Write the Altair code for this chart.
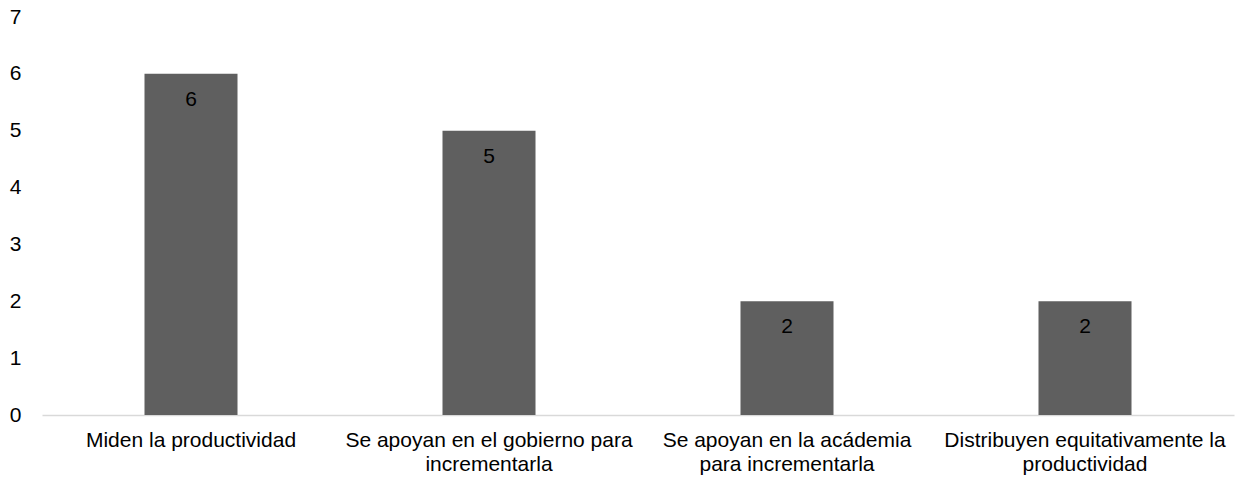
import altair as alt
import pandas as pd

# Categories, their wrapped axis labels, and counts
categories = [
    "Miden la productividad",
    "Se apoyan en el gobierno para incrementarla",
    "Se apoyan en la acádemia para incrementarla",
    "Distribuyen equitativamente la productividad",
]
label_lines = [
    ["Miden la productividad"],
    ["Se apoyan en el gobierno para", "incrementarla"],
    ["Se apoyan en la acádemia", "para incrementarla"],
    ["Distribuyen equitativamente la", "productividad"],
]
counts = [6, 5, 2, 2]
y_ticks = [0, 1, 2, 3, 4, 5, 6, 7]

df = pd.DataFrame({"categoria": categories, "valor": counts})

# Map each category to its multi-line label
label_expr = "".join(
    f"datum.value === {cat!r} ? {lines!r} : " for cat, lines in zip(categories, label_lines)
) + "datum.label"

FONT = "Liberation Sans"

x = alt.X(
    "categoria:N",
    sort=categories,
    title=None,
    scale=alt.Scale(paddingInner=0, paddingOuter=0),
    axis=alt.Axis(
        labelExpr=label_expr,
        labelAngle=0,
        labelFont=FONT,
        labelFontSize=21,
        labelColor="#000000",
        labelLineHeight=24,
        labelPadding=14,
        labelBaseline="top",
        labelLimit=400,
        labelOverlap=False,
        ticks=False,
        tickSize=0,
        domainColor="#d9d9d9",
        domainWidth=1.5,
        grid=False,
    ),
)

y = alt.Y(
    "valor:Q",
    title=None,
    scale=alt.Scale(domain=[0, 7], nice=False),
    axis=alt.Axis(
        values=y_ticks,
        labelFont=FONT,
        labelFontSize=21,
        labelColor="#000000",
        labelPadding=21,
        ticks=False,
        tickSize=0,
        domain=False,
        grid=False,
        format="d",
    ),
)

bars = alt.Chart(df).mark_bar(color="#5f5f5f", size=93).encode(x=x, y=y)

labels = alt.Chart(df).mark_text(
    font=FONT, fontSize=21, color="#000000", baseline="middle", dy=26
).encode(
    x=alt.X("categoria:N", sort=categories),
    y="valor:Q",
    text="valor:Q",
)

chart = (
    alt.layer(bars, labels)
    .properties(
        width=1192,
        height=398,
        autosize=alt.AutoSizeParams(type="none"),
        padding={"left": 42, "top": 17, "right": 1, "bottom": 62},
    )
    .configure(background="white", view=alt.ViewConfig(stroke=None))
)

chart.save("out.html", embed_options={"renderer": "svg", "actions": False})
